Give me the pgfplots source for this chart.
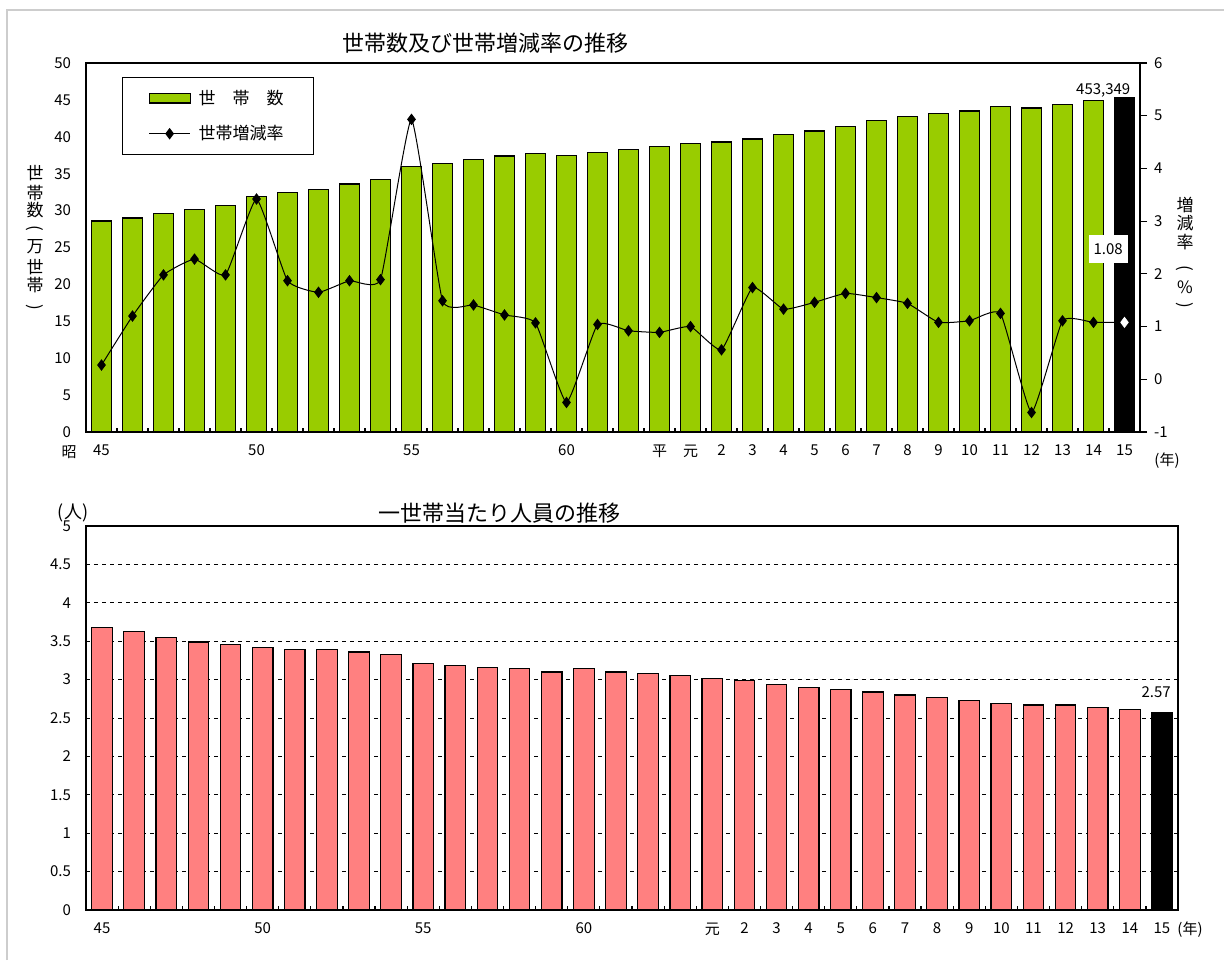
\documentclass[border=0pt]{standalone}
\usepackage{fontspec}
\setmainfont{Noto Sans CJK JP}
\usepackage{pgfplots}
\usepackage{pgfplotstable}
\pgfplotsset{compat=1.18}
\pgfplotsset{/pgf/number format/assume math mode=true}
\definecolor{barg}{RGB}{153,204,0}
\definecolor{barp}{RGB}{255,128,128}
\definecolor{frameg}{RGB}{205,205,205}
\pgfplotsset{
  barlegend/.style={legend image code/.code={\draw[##1] (0pt,-2.3pt) rectangle (20.5pt,2.3pt);}},
  linelegend/.style={legend image code/.code={\draw[mark repeat=2,mark phase=2,##1] plot coordinates {(0pt,0pt) (10.25pt,0pt) (20.5pt,0pt)};}},
}

\pgfplotstableread{
x hh rate pp
0 28.6 0.27 3.68
1 29.0 1.20 3.63
2 29.6 1.98 3.55
3 30.2 2.28 3.49
4 30.7 1.98 3.46
5 31.9 3.42 3.42
6 32.5 1.87 3.39
7 32.9 1.65 3.39
8 33.6 1.87 3.36
9 34.2 1.89 3.33
10 36.0 4.93 3.21
11 36.4 1.49 3.18
12 36.9 1.41 3.16
13 37.4 1.22 3.14
14 37.7 1.07 3.10
15 37.5 -0.44 3.14
16 37.9 1.04 3.10
17 38.3 0.92 3.08
18 38.7 0.89 3.05
19 39.1 1.00 3.01
20 39.3 0.56 2.99
21 39.7 1.74 2.94
22 40.3 1.33 2.90
23 40.8 1.46 2.87
24 41.4 1.63 2.84
25 42.2 1.55 2.80
26 42.8 1.44 2.77
27 43.2 1.08 2.73
28 43.5 1.11 2.69
29 44.1 1.25 2.67
30 43.9 -0.63 2.67
31 44.4 1.11 2.64
32 44.9 1.08 2.61
33 45.3 1.08 2.57
}\datatable

\begin{document}
\begin{tikzpicture}
\path[use as bounding box] (0pt,0pt) rectangle (612pt,480pt);
\draw[frameg, line width=0.7pt] (3.5pt,0pt) -- (3.5pt,475pt) -- (612pt,475pt);

% ---------- top chart: households ----------
\begin{axis}[
  at={(43pt,264pt)}, anchor=south west,
  scale only axis, width=527pt, height=184.5pt,
  xmin=-0.5, xmax=33.5, ymin=0, ymax=50,
  ytick={0,5,...,50},
  xtick={0,5,10,15,18,19,20,21,22,23,24,25,26,27,28,29,30,31,32,33},
  xticklabels={45,50,55,60,平,元,2,3,4,5,6,7,8,9,10,11,12,13,14,15},
  minor xtick={-0.5,0.5,...,33.5},
  xtick pos=left, ytick pos=left,
  major tick length=0pt, minor tick length=2pt, tick align=inside,
  axis line style={line width=0.9pt},
  tick style={black, line width=0.6pt},
  tick label style={font=\fontsize{7.5}{8}\selectfont},
  xticklabel style={yshift=-3pt},
  yticklabel style={xshift=-4pt},
  legend cell align=left,
  legend style={at={(0.034,0.962)}, anchor=north west, draw=black,
    line width=0.7pt, fill=white, font=\fontsize{8.5}{9}\selectfont,
    inner xsep=13pt, inner ysep=4pt, row sep=5pt,
    /tikz/every odd column/.append style={column sep=2pt}},
]
\addplot[ybar, bar width=0.65, bar shift=0pt, fill=barg, draw=black, line width=0.6pt,
  restrict x to domain=0:32, barlegend]
  table[x=x,y=hh]{\datatable};
\addlegendentry{世　帯　数}
\addplot[ybar, bar width=0.65, bar shift=0pt, fill=black, draw=black, line width=0.6pt,
  restrict x to domain=33:33, forget plot]
  table[x=x,y=hh]{\datatable};
\addlegendimage{black, line width=0.5pt, mark=diamond*, mark size=2.5pt, linelegend}
\addlegendentry{世帯増減率}
\node[anchor=base east, inner sep=0pt, font=\fontsize{7.5}{8}\selectfont] at (axis cs:33.2,45.8) {453,349};
\end{axis}

\begin{axis}[
  at={(43pt,264pt)}, anchor=south west,
  scale only axis, width=527pt, height=184.5pt,
  xmin=-0.5, xmax=33.5, ymin=-1, ymax=6,
  axis x line=none, axis y line*=right,
  ytick={-1,0,...,6},
  tick align=outside, major tick length=3.5pt,
  axis line style={line width=0.9pt},
  tick style={black, line width=0.6pt},
  tick label style={font=\fontsize{7.5}{8}\selectfont},
]
\addplot[black, line width=0.5pt, smooth, tension=0.25, mark=diamond*, mark size=2.5pt]
  table[x=x,y=rate]{\datatable};
\addplot[only marks, mark=diamond*, mark size=2.5pt, mark options={fill=white, draw=white}]
  coordinates {(33,1.08)};
\node[fill=white, inner sep=0pt, minimum width=19.5pt, minimum height=14pt,
  font=\fontsize{7.5}{8}\selectfont] at (axis cs:32.47,2.47) {1.08};
\end{axis}

\node[font=\fontsize{11}{12}\selectfont] at (242.8pt,458.5pt) {世帯数及び世帯増減率の推移};
% vertical axis titles (upright characters, turned brackets)
\begin{scope}[every node/.style={font=\fontsize{8.5}{9}\selectfont, inner sep=0pt}]
\node at (17.5pt,393.5pt) {世};
\node at (17.5pt,383.5pt) {帯};
\node at (17.5pt,375pt) {数};
\node[rotate=-90] at (17.5pt,366pt) {(};
\node at (17.5pt,356.5pt) {万};
\node at (17.5pt,346.5pt) {世};
\node at (17.5pt,337.5pt) {帯};
\node[rotate=-90] at (17.5pt,326.5pt) {)};
\node at (592.5pt,377.5pt) {増};
\node at (592.5pt,368.5pt) {減};
\node at (592.5pt,359pt) {率};
\node[rotate=-90] at (592.5pt,346pt) {(};
\node at (592.5pt,336.5pt) {\%};
\node[rotate=-90] at (592.5pt,327.5pt) {)};
\end{scope}
\node[font=\fontsize{7.5}{8}\selectfont] at (34.5pt,254pt) {昭};
\node[font=\fontsize{7.5}{8}\selectfont] at (583.5pt,249.5pt) {(年)};

% ---------- bottom chart: persons per household ----------
\begin{axis}[
  at={(43pt,25pt)}, anchor=south west,
  scale only axis, width=546pt, height=192pt,
  xmin=-0.5, xmax=33.5, ymin=0, ymax=5,
  ytick={0,0.5,1,1.5,2,2.5,3,3.5,4,4.5,5},
  ymajorgrids,
  grid style={black, dash pattern=on 2pt off 2pt, line width=0.5pt},
  xtick={0,5,10,15,19,20,21,22,23,24,25,26,27,28,29,30,31,32,33},
  xticklabels={45,50,55,60,元,2,3,4,5,6,7,8,9,10,11,12,13,14,15},
  minor xtick={-0.5,0.5,...,33.5},
  xtick pos=left, ytick pos=left,
  major tick length=0pt, minor tick length=2pt, tick align=inside,
  axis line style={line width=0.8pt},
  tick style={black, line width=0.6pt},
  tick label style={font=\fontsize{7.5}{8}\selectfont},
  xticklabel style={yshift=-3pt},
  yticklabel style={xshift=-4pt},
]
\addplot[ybar, bar width=0.64, bar shift=0pt, fill=barp, draw=black, line width=0.6pt,
  restrict x to domain=0:32]
  table[x=x,y=pp]{\datatable};
\addplot[ybar, bar width=0.64, bar shift=0pt, fill=black, draw=black, line width=0.6pt,
  restrict x to domain=33:33]
  table[x=x,y=pp]{\datatable};
\node[anchor=base east, fill=white, inner sep=1pt, font=\fontsize{7.5}{8}\selectfont]
  at (axis cs:33.35,2.77) {2.57};
\end{axis}

\node[font=\fontsize{11}{12}\selectfont] at (249.5pt,223.5pt) {一世帯当たり人員の推移};
\node[font=\fontsize{9}{10}\selectfont] at (36.5pt,223.5pt) {(人)};
\node[font=\fontsize{7.5}{8}\selectfont] at (595pt,15pt) {(年)};
\end{tikzpicture}
\end{document}
